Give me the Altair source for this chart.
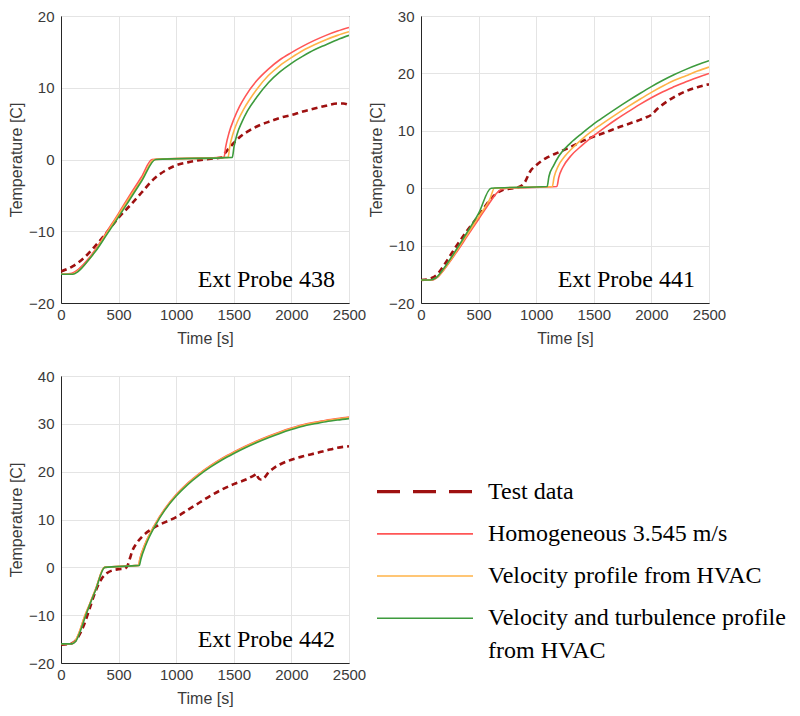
import altair as alt
import pandas as pd

# ---------------- Ext Probe 438 ----------------
t438_test = [0, 100, 200, 300, 400, 500, 600, 700, 800, 900, 1000, 1100, 1200, 1300, 1400, 1420, 1460, 1500, 1550, 1630, 1700, 1830, 1900, 2000, 2100, 2200, 2300, 2400, 2450, 2500]
v438_test = [-15.6, -14.9, -13.7, -12.0, -10.1, -8.1, -6.4, -4.6, -2.8, -1.6, -0.8, -0.4, -0.1, 0.1, 0.3, 0.8, 1.6, 2.3, 3.1, 4.0, 4.6, 5.4, 5.8, 6.2, 6.7, 7.1, 7.5, 7.8, 7.8, 7.6]
t438_hom = [0, 80, 150, 250, 300, 400, 500, 600, 700, 790, 1415, 1430, 1460, 1500, 1550, 1600, 1700, 1800, 1900, 2000, 2100, 2200, 2300, 2400, 2500]
v438_hom = [-16.0, -15.9, -15.3, -13.6, -12.5, -10.0, -7.5, -4.9, -2.4, 0.0, 0.3, 1.8, 3.8, 5.6, 7.4, 8.8, 11.0, 12.6, 13.9, 14.9, 15.8, 16.6, 17.3, 17.9, 18.4]
t438_vel = [0, 90, 150, 250, 300, 400, 500, 600, 700, 810, 1450, 1465, 1495, 1535, 1585, 1635, 1700, 1800, 1900, 2000, 2100, 2200, 2300, 2400, 2500]
v438_vel = [-16.0, -16.0, -15.5, -13.8, -12.7, -10.2, -7.7, -5.2, -2.8, 0.0, 0.3, 1.8, 3.7, 5.4, 7.0, 8.3, 9.8, 11.7, 13.1, 14.2, 15.2, 16.0, 16.7, 17.3, 17.8]
t438_turb = [0, 100, 150, 250, 300, 400, 500, 600, 700, 822, 1487, 1502, 1530, 1570, 1620, 1700, 1800, 1900, 2000, 2100, 2200, 2300, 2400, 2500]
v438_turb = [-16.0, -16.0, -15.6, -13.8, -12.8, -10.4, -8.0, -5.5, -3.0, 0.0, 0.3, 1.8, 3.6, 5.2, 6.8, 8.7, 10.7, 12.2, 13.4, 14.4, 15.3, 16.0, 16.7, 17.3]

# ---------------- Ext Probe 441 ----------------
t441_test = [0, 50, 100, 150, 200, 300, 400, 500, 600, 650, 700, 800, 850, 900, 950, 1000, 1050, 1100, 1200, 1300, 1400, 1500, 1600, 1700, 1800, 1900, 1950, 2000, 2050, 2100, 2200, 2300, 2400, 2500]
v441_test = [-16.0, -15.9, -15.6, -14.8, -13.4, -10.3, -7.4, -4.8, -2.0, -1.0, -0.4, 0.0, 0.2, 1.0, 3.0, 4.0, 4.8, 5.4, 6.3, 7.2, 8.2, 9.0, 9.7, 10.5, 11.2, 11.9, 12.3, 12.8, 13.8, 14.6, 15.9, 16.9, 17.6, 18.1]
t441_hom = [0, 90, 150, 200, 300, 400, 500, 600, 650, 700, 750, 1180, 1195, 1230, 1300, 1400, 1500, 1600, 1700, 1800, 1900, 2000, 2100, 2200, 2300, 2400, 2500]
v441_hom = [-16.0, -16.0, -15.4, -14.2, -11.4, -8.4, -5.4, -2.4, -1.0, -0.2, 0.0, 0.3, 1.8, 3.6, 5.6, 7.5, 9.15, 10.65, 12.05, 13.35, 14.6, 15.75, 16.8, 17.7, 18.55, 19.3, 20.0]
t441_vel = [0, 85, 140, 200, 300, 400, 500, 600, 637, 1140, 1155, 1190, 1250, 1300, 1400, 1500, 1600, 1700, 1800, 1900, 2000, 2100, 2200, 2300, 2400, 2500]
v441_vel = [-16.0, -16.0, -15.5, -14.1, -11.2, -8.1, -5.0, -1.8, 0.0, 0.3, 1.9, 3.8, 5.6, 6.7, 8.6, 10.2, 11.6, 12.95, 14.25, 15.5, 16.7, 17.8, 18.8, 19.6, 20.4, 21.1]
t441_turb = [0, 80, 130, 200, 300, 400, 500, 608, 1095, 1110, 1150, 1200, 1300, 1400, 1500, 1600, 1700, 1800, 1900, 2000, 2100, 2200, 2300, 2400, 2500]
v441_turb = [-16.0, -16.0, -15.6, -13.9, -10.9, -7.7, -4.4, 0.0, 0.3, 2.0, 3.9, 5.7, 7.9, 9.6, 11.2, 12.6, 13.95, 15.25, 16.5, 17.7, 18.8, 19.8, 20.7, 21.5, 22.2]

# ---------------- Ext Probe 442 ----------------
t442_test = [0, 100, 150, 200, 250, 300, 350, 400, 450, 500, 550, 580, 600, 620, 650, 700, 800, 900, 1000, 1100, 1200, 1300, 1400, 1500, 1600, 1680, 1700, 1710, 1740, 1760, 1800, 1850, 1900, 2000, 2100, 2200, 2300, 2400, 2500]
v442_test = [-16.2, -15.8, -14.5, -12.0, -8.5, -5.0, -2.5, -1.2, -0.6, -0.4, -0.3, 0.5, 2.0, 3.5, 4.8, 6.3, 8.2, 9.4, 10.5, 12.0, 13.5, 15.0, 16.3, 17.4, 18.3, 19.3, 19.6, 18.8, 18.3, 18.6, 19.8, 20.8, 21.5, 22.5, 23.2, 23.8, 24.4, 25.0, 25.3]
t442_hom = [0, 80, 120, 160, 200, 250, 300, 377, 673, 685, 730, 818, 900, 1000, 1100, 1200, 1300, 1400, 1500, 1600, 1700, 1800, 1900, 2000, 2100, 2200, 2300, 2400, 2500]
v442_hom = [-16.0, -16.0, -15.5, -13.5, -10.6, -7.6, -4.6, 0.0, 0.4, 1.8, 4.9, 9.1, 12.2, 15.2, 17.6, 19.6, 21.3, 22.8, 24.1, 25.3, 26.4, 27.4, 28.3, 29.1, 29.8, 30.3, 30.75, 31.1, 31.4]
t442_vel = [0, 80, 120, 160, 200, 250, 300, 377, 673, 685, 730, 818, 900, 1000, 1100, 1200, 1300, 1400, 1500, 1600, 1700, 1800, 1900, 2000, 2100, 2200, 2300, 2400, 2500]
v442_vel = [-16.0, -16.0, -15.5, -13.5, -10.6, -7.6, -4.6, 0.0, 0.4, 1.7, 4.8, 9.0, 12.1, 15.1, 17.5, 19.5, 21.2, 22.7, 24.0, 25.2, 26.3, 27.3, 28.2, 29.0, 29.7, 30.2, 30.65, 31.0, 31.3]
t442_turb = [0, 90, 130, 170, 210, 250, 300, 380, 680, 692, 735, 822, 900, 1000, 1100, 1200, 1300, 1400, 1500, 1600, 1700, 1800, 1900, 2000, 2100, 2200, 2300, 2400, 2500]
v442_turb = [-16.0, -16.0, -15.4, -13.2, -10.4, -7.8, -4.8, 0.0, 0.4, 1.6, 4.6, 8.9, 11.9, 14.9, 17.3, 19.3, 21.0, 22.5, 23.8, 25.0, 26.1, 27.1, 28.0, 28.8, 29.5, 30.0, 30.45, 30.8, 31.1]

series_names = ["Test data", "Homogeneous 3.545 m/s", "Velocity profile from HVAC", "Velocity and turbulence profile from HVAC"]
series_colors = ["#9e1010", "#ff5656", "#ffb347", "#3d9b3d"]
probe_labels = ["Ext Probe 438", "Ext Probe 441", "Ext Probe 442"]
y_domains = [[-20, 20], [-20, 30], [-20, 40]]
y_ticks = [[-20, -10, 0, 10, 20], [-20, -10, 0, 10, 20, 30], [-20, -10, 0, 10, 20, 30, 40]]
x_ticks = [0, 500, 1000, 1500, 2000, 2500]

legend_first = ["Test data", "Homogeneous 3.545 m/s", "Velocity profile from HVAC", "Velocity and turbulence profile"]
legend_second = ["", "", "", "from HVAC"]
legend_rows = [0, 1, 2, 3]

W, H = 288, 287
SANS = "Liberation Sans"
SERIF = "Liberation Serif"
AX = "#3a3a3a"


def panel(series, label, ydom, yticks):
    common = dict(format="d", labelFlush=False, gridColor="#e4e4e4", domainColor="#262626", ticks=False,
                  labelFont=SANS, labelFontSize=15, labelColor=AX,
                  titleFont=SANS, titleFontSize=16, titleColor=AX, titleFontWeight="normal")
    x = alt.X("t:Q", title="Time [s]",
              scale=alt.Scale(domain=[0, 2500], nice=False, zero=False),
              axis=alt.Axis(values=x_ticks, labelPadding=4, titlePadding=8, **common))
    y = alt.Y("v:Q", title="Temperature [C]",
              scale=alt.Scale(domain=ydom, nice=False, zero=False),
              axis=alt.Axis(values=yticks, labelPadding=7, titlePadding=4, **common))
    layers = []
    for i, (ts, vs) in enumerate(series):
        df = pd.DataFrame({"t": ts, "v": vs})
        if i == 0:
            m = alt.Chart(df).mark_line(color=series_colors[0], strokeWidth=2.6, strokeDash=[6, 4],
                                        interpolate="monotone", clip=True)
        else:
            m = alt.Chart(df).mark_line(color=series_colors[i], strokeWidth=1.6,
                                        interpolate="monotone", clip=True)
        layers.append(m.encode(x=x, y=y))
    txt = alt.Chart(pd.DataFrame({"label": [label]})).mark_text(
        font=SERIF, fontSize=24, color="#000000", align="right", baseline="alphabetic"
    ).encode(text="label:N", x=alt.value(W - 14), y=alt.value(H - 16))
    return alt.layer(*layers, txt).properties(width=W, height=H)


p1 = panel([(t438_test, v438_test), (t438_hom, v438_hom), (t438_vel, v438_vel), (t438_turb, v438_turb)],
           probe_labels[0], y_domains[0], y_ticks[0])
p2 = panel([(t441_test, v441_test), (t441_hom, v441_hom), (t441_vel, v441_vel), (t441_turb, v441_turb)],
           probe_labels[1], y_domains[1], y_ticks[1])
p3 = panel([(t442_test, v442_test), (t442_hom, v442_hom), (t442_vel, v442_vel), (t442_turb, v442_turb)],
           probe_labels[2], y_domains[2], y_ticks[2])

# ---------------- legend panel ----------------
leg_df = pd.DataFrame({"row": legend_rows, "name": series_names, "first": legend_first,
                       "second": legend_second, "color": series_colors})
ly = alt.Y("row:Q", axis=None, scale=alt.Scale(domain=[-2.74, 4.06], reverse=True, nice=False, zero=False))
leg_base = alt.Chart(leg_df)
dash_rule = leg_base.transform_filter("datum.row == 0").mark_rule(
    color=series_colors[0], strokeWidth=3.2, strokeDash=[23, 13]
).encode(y=ly, x=alt.value(-44), x2=alt.value(52))
solid_rules = leg_base.transform_filter("datum.row > 0").mark_rule(strokeWidth=1.6).encode(
    y=ly, x=alt.value(-44), x2=alt.value(52),
    color=alt.Color("name:N", scale=alt.Scale(domain=series_names, range=series_colors), legend=None))
leg_txt1 = leg_base.mark_text(font=SERIF, fontSize=24, align="left", baseline="middle", color="#000000").encode(
    y=ly, x=alt.value(67), text="first:N")
leg_txt2 = leg_base.mark_text(font=SERIF, fontSize=24, align="left", baseline="middle", color="#000000", dy=33).encode(
    y=ly, x=alt.value(67), text="second:N")
legend = alt.layer(dash_rule, solid_rules, leg_txt1, leg_txt2).properties(
    width=W, height=H, view=alt.ViewBackground(strokeOpacity=0))

chart = alt.concat(p1, p2, p3, legend, columns=2, spacing={"row": 73, "column": 72}, bounds="flush").properties(
    padding={"left": 8, "top": 8, "right": 5, "bottom": 5}, background="#ffffff"
).configure_view(stroke="#262626", strokeWidth=1)

chart.save("out.html", embed_options={"renderer": "svg", "actions": False})
